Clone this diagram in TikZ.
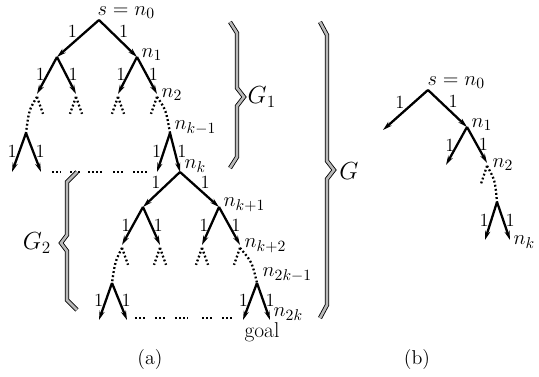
\documentclass[tikz,border=0pt]{standalone}
\usetikzlibrary{arrows.meta}
\begin{document}
\begin{tikzpicture}[x=0.7pt,y=-0.7pt,
  arr/.style={line width=1.6pt, -{Stealth[length=6.5pt,width=3.6pt]}},
  dots/.style={line width=1.6pt, dash pattern=on 1.3pt off 1.6pt},
  tl/.style={midway, above left=-0.5pt, inner sep=0.5pt, font=\fontsize{13}{15}\selectfont},
  tr/.style={midway, above right=-0.5pt, inner sep=0.5pt, font=\fontsize{13}{15}\selectfont},
  ll/.style={pos=0.47, left=0.5pt, inner sep=0.5pt, font=\fontsize{13}{15}\selectfont},
  rl/.style={pos=0.47, right=0.5pt, inner sep=0.5pt, font=\fontsize{13}{15}\selectfont},
  lbl/.style={inner sep=1pt, font=\fontsize{15}{18}\selectfont},
  glbl/.style={inner sep=1pt, font=\fontsize{17}{20}\selectfont},
  brace/.style={draw=black, double=gray!55, double distance=1.8pt, line width=0.6pt, line join=miter},
]
\useasboundingbox (0,0) rectangle (539,377);
% ---------- tree (a) ----------
\coordinate (r) at (99,20);
\coordinate (a1) at (57,57); \coordinate (n1) at (137,57);
\coordinate (a2) at (37,94); \coordinate (b2) at (76,94); \coordinate (c2) at (118,94); \coordinate (n2) at (157,94);
\coordinate (L1) at (26,133); \coordinate (nkm1) at (170,133);
\coordinate (t1) at (12,172); \coordinate (t2) at (41,172); \coordinate (t3) at (157,172); \coordinate (nk) at (180,172);
\coordinate (d1) at (143,207); \coordinate (nk1) at (219,207);
\coordinate (e1) at (122,245); \coordinate (e2) at (160,245); \coordinate (e3) at (202,245); \coordinate (nk2) at (240,245);
\coordinate (L2) at (112,283); \coordinate (n2km1) at (257,283);
\coordinate (u1) at (99,320); \coordinate (u2) at (127,320); \coordinate (u3) at (243,320); \coordinate (n2k) at (270,320);

\draw[arr] (r) -- node[tl]{1} (a1);
\draw[arr] (r) -- node[tr]{1} (n1);
\draw[arr] (a1) -- node[ll]{1} (a2);
\draw[arr] (a1) -- node[rl]{1} (b2);
\draw[arr] (n1) -- node[ll]{1} (c2);
\draw[arr] (n1) -- node[rl]{1} (n2);

\draw[dots] ([yshift=-2pt]a2) .. controls (29,110) .. (L1);
\draw[dots] ([yshift=-2pt]a2) -- ++(6,17);
\draw[dots] ([yshift=-2pt]b2) -- ++(-6,17);
\draw[dots] ([yshift=-2pt]b2) -- ++(6,17);
\draw[dots] ([yshift=-2pt]c2) -- ++(-6,17);
\draw[dots] ([yshift=-2pt]c2) -- ++(6,17);
\draw[dots] ([yshift=-2pt]n2) -- ++(-6,17);
\draw[dots] ([yshift=-2pt]n2) .. controls (166,110) .. (nkm1);

\draw[arr] (L1) -- node[ll]{1} (t1);
\draw[arr] (L1) -- node[rl]{1} (t2);
\draw[arr] (nkm1) -- node[ll]{1} (t3);
\draw[arr] (nkm1) -- node[rl]{1} (nk);

\foreach \a/\b in {52/61,70/80,88/102,113/125,133/147}
  \draw[dots] (\a,172) -- (\b,172);

\draw[arr] (nk) -- node[tl]{1} (d1);
\draw[arr] (nk) -- node[tr]{1} (nk1);
\draw[arr] (d1) -- node[ll]{1} (e1);
\draw[arr] (d1) -- node[rl]{1} (e2);
\draw[arr] (nk1) -- node[ll]{1} (e3);
\draw[arr] (nk1) -- node[rl]{1} (nk2);

\draw[dots] ([yshift=-2pt]e1) .. controls (115,262) .. (L2);
\draw[dots] ([yshift=-2pt]e1) -- ++(6,17);
\draw[dots] ([yshift=-2pt]e2) -- ++(-6,17);
\draw[dots] ([yshift=-2pt]e2) -- ++(6,17);
\draw[dots] ([yshift=-2pt]e3) -- ++(-6,17);
\draw[dots] ([yshift=-2pt]e3) -- ++(6,17);
\draw[dots] ([yshift=-2pt]nk2) -- ++(-6,17);
\draw[dots] ([yshift=-2pt]nk2) .. controls (252,262) .. (n2km1);

\draw[arr] (L2) -- node[ll]{1} (u1);
\draw[arr] (L2) -- node[rl]{1} (u2);
\draw[arr] (n2km1) -- node[ll]{1} (u3);
\draw[arr] (n2km1) -- node[rl]{1} (n2k);

\foreach \a/\b in {135/147,155/165,175/188,202/212,222/232}
  \draw[dots] (\a,318) -- (\b,318);

\node[lbl, anchor=south west] (lr) at (96,20) {$s = n_0$};
\node[lbl, anchor=west] (ln1) at (140,55) {$n_1$};
\node[lbl, anchor=west] (ln2) at (160,95) {$n_2$};
\node[lbl, anchor=west] (lnkm1) at (173,128) {$n_{k-1}$};
\node[lbl, anchor=west] (lnk) at (183,166) {$n_k$};
\node[lbl, anchor=west] (lnk1) at (222,205) {$n_{k+1}$};
\node[lbl, anchor=west] (lnk2) at (243,246) {$n_{k+2}$};
\node[lbl, anchor=west] (ln2km1) at (261,275) {$n_{2k-1}$};
\node[lbl, anchor=west] (ln2k) at (272,314) {$n_{2k}$};
\node[lbl] (goal) at (262,332) {goal};

% braces
\draw[brace] (230,22) -- (237,33) -- (237,88) -- (244,97) -- (237,106) -- (237,157) -- (230,168);
\node[glbl, anchor=west] (G1) at (246,97) {$G_1$};
\draw[brace] (320,22) -- (327,35) -- (327,161) -- (334,170) -- (327,179) -- (327,305) -- (320,318);
\node[glbl] (G) at (349,171) {$G$};
\draw[brace] (77,172) -- (67,182) -- (67,235) -- (61,243) -- (67,251) -- (67,300) -- (77,310);
\node[glbl] (G2) at (37,243) {$G_2$};

% ---------- tree (b) ----------
\coordinate (br) at (428,90);
\coordinate (ba1) at (383,130); \coordinate (bn1) at (467,127);
\coordinate (ba2) at (446,165); \coordinate (bn2) at (487,163);
\coordinate (bL) at (497,202);
\coordinate (bt1) at (485,240); \coordinate (bnk) at (510,240);
\draw[arr] (br) -- node[tl]{1} (ba1);
\draw[arr] (br) -- node[tr]{1} (bn1);
\draw[arr] (bn1) -- node[ll]{1} (ba2);
\draw[arr] (bn1) -- node[rl]{1} (bn2);
\draw[dots] ([yshift=-2pt]bn2) -- ++(-6,18);
\draw[dots] ([yshift=-2pt]bn2) .. controls (495,180) .. (bL);
\draw[arr] (bL) -- node[ll]{1} (bt1);
\draw[arr] (bL) -- node[rl]{1} (bnk);
\node[lbl, anchor=south west] (blr) at (426,90) {$s = n_0$};
\node[lbl, anchor=west] (bln1) at (470,125) {$n_1$};
\node[lbl, anchor=west] (bln2) at (491,165) {$n_2$};
\node[lbl, anchor=west] (blnk) at (512,242) {$n_k$};

% captions
\node[font=\fontsize{14}{16}\selectfont] (capa) at (150,360) {(a)};
\node[font=\fontsize{14}{16}\selectfont] (capb) at (417,360) {(b)};
\end{tikzpicture}
\end{document}
